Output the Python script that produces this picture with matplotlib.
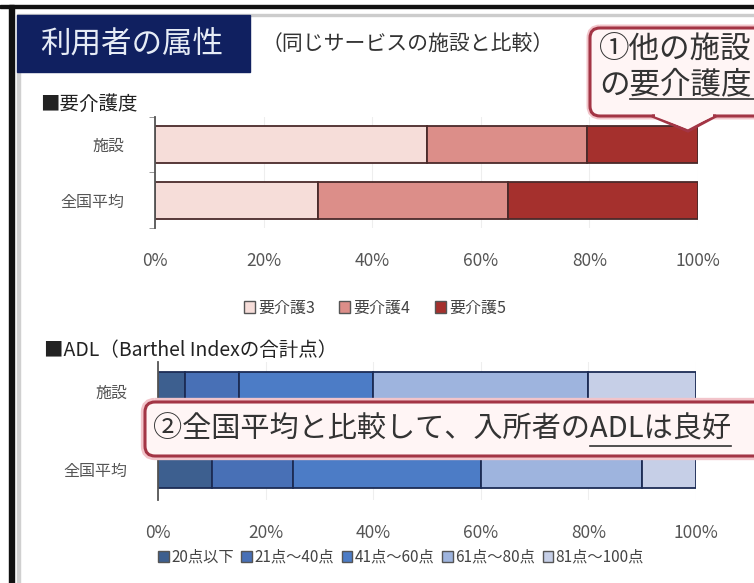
import numpy as np
import matplotlib.pyplot as plt
from matplotlib.patches import Rectangle, FancyBboxPatch, Polygon, Patch
from matplotlib.font_manager import FontProperties

plt.rcParams['font.family'] = ['Noto Sans CJK JP', 'DejaVu Sans']

W, H = 754, 583

# 要介護度の構成比 (%)
rows = ['施設', '全国平均']
care_labels = ['要介護3', '要介護4', '要介護5']
care_facility = [50, 29.5, 20.5]
care_national = [30, 35, 35]
care_colors = ['#f6ddd9', '#dc8e89', '#a5302d']

# ADL (Barthel Index 合計点) の構成比 (%)
adl_labels = ['20点以下', '21点～40点', '41点～60点', '61点～80点', '81点～100点']
adl_facility = [5, 10, 25, 40, 20]
adl_national = [10, 15, 35, 30, 10]
adl_colors = ['#3d5f8f', '#4870b6', '#4c7cc6', '#9eb4de', '#c6cfe7']

ticks = [0, 20, 40, 60, 80, 100]
tick_labels = ['0%', '20%', '40%', '60%', '80%', '100%']

fig = plt.figure(figsize=(W / 100, H / 100), dpi=100)


def box(x0, y0, x1, y1):
    # pixel box (top-left origin) -> figure fraction
    return [x0 / W, 1 - y1 / H, (x1 - x0) / W, (y1 - y0) / H]


def stacked(ax, facility, national, colors, edge, height):
    left = np.zeros(len(rows))
    for i, c in enumerate(colors):
        vals = np.array([facility[i], national[i]])
        ax.barh(np.arange(len(rows)), vals, left=left, height=height,
                color=c, edgecolor=edge, linewidth=1.3, zorder=2)
        left += vals
    ax.set_xlim(0, 100)
    ax.set_xticks(ticks)
    ax.set_xticklabels(tick_labels)
    ax.set_yticks(np.arange(len(rows)))
    ax.set_yticklabels(rows)
    ax.set_yticks([-0.5, 0.5, 1.5], minor=True)
    for s in ['top', 'right', 'bottom']:
        ax.spines[s].set_visible(False)
    ax.spines['left'].set_color('#555555')
    ax.spines['left'].set_linewidth(1.3)
    ax.tick_params(axis='x', length=0, pad=17, labelsize=12.5, labelcolor='#555555')
    ax.tick_params(axis='y', which='major', length=0, pad=22, labelsize=11.5, labelcolor='#555555')
    ax.tick_params(axis='y', which='minor', length=4, color='#888888')
    ax.grid(axis='x', color='#eeeeee', linewidth=0.8)
    ax.set_axisbelow(True)
    ax.patch.set_alpha(0)


# 要介護度
ax1 = fig.add_axes(box(155, 117, 698, 228))
stacked(ax1, care_facility, care_national, care_colors, '#4a2a2a', 0.67)
ax1.set_ylim(1.5, -0.5)

# ADL
ax2 = fig.add_axes(box(158, 362, 696, 500))
stacked(ax2, adl_facility, adl_national, adl_colors, '#1c2c55', 0.49)
ax2.set_ylim(1.397, -0.372)

care_handles = [Patch(facecolor=c, edgecolor='#555555') for c in care_colors]
fig.legend(care_handles, care_labels, loc='center', ncol=3,
           bbox_to_anchor=(375 / W, 1 - 308 / H), frameon=False,
           fontsize=11.5, handlelength=0.7, handleheight=0.7,
           handletextpad=0.2, columnspacing=1.5, labelcolor='#444444')

adl_handles = [Patch(facecolor=c, edgecolor='#555555') for c in adl_colors]
fig.legend(adl_handles, adl_labels, loc='center', ncol=5,
           bbox_to_anchor=(401 / W, 1 - 557 / H), frameon=False,
           fontsize=11, handlelength=0.7, handleheight=0.7,
           handletextpad=0.15, columnspacing=0.5, labelcolor='#444444')

# overlay for frame, headings and callouts (pixel coordinates)
ov = fig.add_axes([0, 0, 1, 1], zorder=5)
ov.set_xlim(0, W)
ov.set_ylim(H, 0)
ov.axis('off')
ov.patch.set_alpha(0)

ov.add_patch(Rectangle((0, 5), W, 3, color='#111111'))
ov.add_patch(Rectangle((9, 5), 5, H, color='#111111'))
ov.add_patch(Rectangle((17, 14), W, 2, color='#cccccc'))
ov.add_patch(Rectangle((17, 72), 3, H, color='#d0d0d0'))

ov.add_patch(Rectangle((17, 15), 233, 57, color='#102060'))
ov.text(132, 44, '利用者の属性', fontsize=22, color='#e6ecf6', ha='center', va='center')
ov.text(262, 44, '（同じサービスの施設と比較）', fontsize=15, color='#333333', va='center')

ov.text(40, 104, '■要介護度', fontsize=14, color='#222222', va='center')
ov.text(44, 350, '■ADL（Barthel Indexの合計点）', fontsize=14, color='#222222', va='center')

fill = '#fff5f5'
line = '#a33545'

# callout 1
ov.add_patch(FancyBboxPatch((590, 28), 240, 88, boxstyle='round,pad=0,rounding_size=10',
                            fc='none', ec='#f2c4ca', lw=5, zorder=3))
ov.add_patch(FancyBboxPatch((590, 28), 240, 88, boxstyle='round,pad=0,rounding_size=10',
                            fc=fill, ec=line, lw=2.2, zorder=4))
ov.add_patch(Polygon([(652, 116), (688, 131), (716, 116)], closed=True,
                     fc=fill, ec=line, lw=2.2, zorder=4))
ov.add_patch(Polygon([(655, 112), (655, 116.5), (687, 128.5), (713, 116.5), (713, 112)],
                     closed=True, fc=fill, ec='none', zorder=4.5))
ov.text(599, 50, '①他の施設', fontsize=22, color='#333333', va='center', zorder=6)
ov.text(599, 85, 'の要介護度', fontsize=22, color='#333333', va='center', zorder=6)

# callout 2
ov.add_patch(FancyBboxPatch((145, 402), 700, 54, boxstyle='round,pad=0,rounding_size=10',
                            fc='none', ec='#f2c4ca', lw=6, zorder=3))
ov.add_patch(FancyBboxPatch((145, 402), 700, 54, boxstyle='round,pad=0,rounding_size=10',
                            fc=fill, ec=line, lw=2.2, zorder=4))
ov.text(153, 430, '②全国平均と比較して、入所者のADLは良好', fontsize=21,
        color='#333333', va='center', zorder=6)

# underlines under the key phrases
fig.canvas.draw()
r = fig.canvas.get_renderer()


def width(s, size):
    fp = FontProperties(family=['Noto Sans CJK JP', 'DejaVu Sans'], size=size)
    return r.get_text_width_height_descent(s, fp, ismath=False)[0]


u0 = 599 + width('の', 22)
ov.plot([u0, W], [99, 99], color='#333333', lw=1.2, zorder=6)
u1 = 153 + width('②全国平均と比較して、入所者の', 21)
u1_end = 153 + width('②全国平均と比較して、入所者のADLは良好', 21)
ov.plot([u1, u1_end], [446, 446], color='#333333', lw=1.2, zorder=6)

fig.savefig('out.png', dpi=100)
